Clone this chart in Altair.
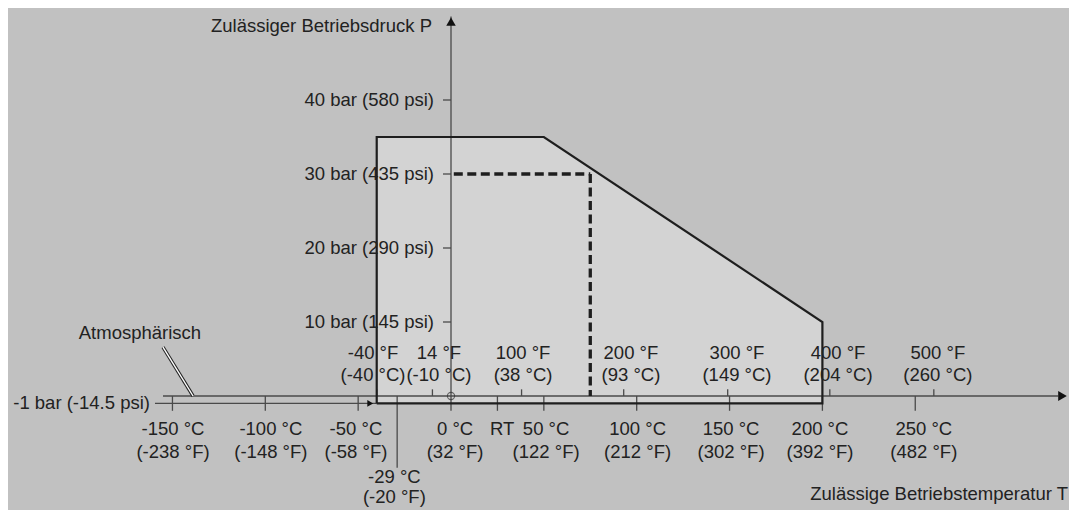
import altair as alt
import pandas as pd

# ---------------- data ----------------
# permissible envelope (temperature in °C, pressure in bar)
env_temp_c = [-40, -40, 50, 200, 200, -40]
env_press_bar = [-1, 35, 35, 10, -1, -1]
fill_temp_c = [-40, 50, 200]
fill_press_bar = [35, 35, 10]
fill_base_bar = [-1, -1, -1]

# example operating point (dashed)
op_temp_c = 75
op_press_bar = 30

# pressure axis
p_ticks_bar = [10, 20, 30, 40]
p_tick_labels = ["10 bar (145 psi)", "20 bar (290 psi)", "30 bar (435 psi)", "40 bar (580 psi)"]
vac_bar = -1
vac_label = "-1 bar (-14.5 psi)"

# temperature axis, °C ticks below
c_ticks = [-150, -100, -50, 0, 25, 50, 100, 150, 200, 250]
c_label_pos = [-149.7, -97.0, -51.2, 2.2, 27.5, 51.2, 100.5, 150.8, 198.7, 254.6]
c_labels = ["-150 °C", "-100 °C", "-50 °C", "0 °C", "RT", "50 °C", "100 °C", "150 °C", "200 °C", "250 °C"]
c_labels_f = ["(-238 °F)", "(-148 °F)", "(-58 °F)", "(32 °F)", "", "(122 °F)", "(212 °F)", "(302 °F)", "(392 °F)", "(482 °F)"]

# °F ticks above (positions in °C)
f_ticks_c = [-40, -10, 38, 93, 149, 204, 260]
f_label_pos = [-42.0, -6.5, 38.8, 96.9, 154.0, 208.4, 262.2]
f_labels = ["-40 °F", "14 °F", "100 °F", "200 °F", "300 °F", "400 °F", "500 °F"]
f_labels_c = ["(-40 °C)", "(-10 °C)", "(38 °C)", "(93 °C)", "(149 °C)", "(204 °C)", "(260 °C)"]

# minimum temperature marker
min_c = -29
min_tick_end_bar = -9.7
min_label_pos = -30.5
min_labels = ["-29 °C", "(-20 °F)"]

# annotations
atm_label = "Atmosphärisch"
atm_pointer_c = [-155.1, -138.9]
atm_pointer_bar = [6.6, 0.0]
atm_label_pos = (-167.5, 8.5)
y_title = "Zulässiger Betriebsdruck P"
y_title_bar = 50.0
x_title = "Zulässige Betriebstemperatur T"
x_title_bar = -13.25

# ---------------- layout ----------------
W, H = 1061, 502
PX_PER_C = 1.857
PX_PER_BAR = 7.4
X0, Y0 = 443, 388  # plot-relative pixel of (0 °C, 0 bar)
X_MIN, X_MAX = -X0 / PX_PER_C, (W - X0) / PX_PER_C
xs = alt.Scale(domain=[X_MIN, X_MAX], nice=False, zero=False)
ys = alt.Scale(domain=[(Y0 - H) / PX_PER_BAR, Y0 / PX_PER_BAR], nice=False, zero=False)

X_AXIS_START, X_AXIS_END = -155.1, 327.0
ARROW_X = 329.3
VAC_START = -159.4
Y_AXIS_TOP = 51.3

INK = "#1e1e1e"
AXIS = "#4a4a4a"
FONT = "Liberation Sans"
FS = 18.5


def X(f):
    return alt.X(f, type="quantitative", scale=xs, axis=None)


def Y(f):
    return alt.Y(f, type="quantitative", scale=ys, axis=None)


def segs(rows):
    return pd.DataFrame(rows, columns=["x", "y", "x2", "y2"])


def seg_layer(df, **mk):
    return alt.Chart(df).mark_rule(**mk).encode(
        x=X("x"), y=Y("y"), x2=alt.X2("x2"), y2=alt.Y2("y2"))


# envelope fill
fill_df = pd.DataFrame({"x": fill_temp_c, "y": fill_press_bar, "y2": fill_base_bar})
fill = alt.Chart(fill_df).mark_area(color="#d3d3d3", opacity=1).encode(
    x=X("x"), y=Y("y"), y2=alt.Y2("y2"))

# axis lines
axis_lines = seg_layer(segs([
    (X_AXIS_START, 0, X_AXIS_END, 0),
    (VAC_START, vac_bar, env_temp_c[0], vac_bar),
    (0, 0, 0, Y_AXIS_TOP),
]), color=AXIS, strokeWidth=1.3)

# ticks
c_tick_df = segs([(c, 0, c, -2) for c in c_ticks] + [(min_c, 0, min_c, min_tick_end_bar)])
c_tick_layer = seg_layer(c_tick_df, color=AXIS, strokeWidth=1.3)
f_tick_df = segs([(c, 0, c, 0.9) for c in f_ticks_c])
f_tick_layer = seg_layer(f_tick_df, color=AXIS, strokeWidth=1.3)
p_tick_df = pd.DataFrame({"x": [0] * len(p_ticks_bar), "y": p_ticks_bar})
p_tick_layer = alt.Chart(p_tick_df).mark_rule(color=AXIS, strokeWidth=1.3, xOffset=-8).encode(
    x=X("x"), x2=alt.X2("x"), y=Y("y"))

# envelope outline
env_df = pd.DataFrame({"x": env_temp_c, "y": env_press_bar, "o": list(range(len(env_temp_c)))})
outline = alt.Chart(env_df).mark_line(color=INK, strokeWidth=2.2, strokeJoin="miter").encode(
    x=X("x"), y=Y("y"), order="o:Q")

# dashed operating lines
dash = seg_layer(segs([
    (1.5, op_press_bar, op_temp_c, op_press_bar),
    (op_temp_c, op_press_bar, op_temp_c, 0),
]), color=INK, strokeWidth=3.3, strokeDash=[9, 4.5])

# atmospheric pointer
ptr_df = segs([(atm_pointer_c[0], atm_pointer_bar[0], atm_pointer_c[1], atm_pointer_bar[1])])
ptr_dark = seg_layer(ptr_df, color="#222222", strokeWidth=3.4)
ptr_light = seg_layer(ptr_df, color="#ffffff", strokeWidth=1.4)

# origin circle
origin = alt.Chart(pd.DataFrame({"x": [0], "y": [0]})).mark_point(
    shape="circle", size=52, filled=False, color="#333333", strokeWidth=1.1).encode(x=X("x"), y=Y("y"))

# arrowheads
arr_up = alt.Chart(pd.DataFrame({"x": [0], "y": [50.6]})).mark_point(
    shape="triangle-up", size=90, filled=True, color="#111111", opacity=1).encode(x=X("x"), y=Y("y"))
arr_right = alt.Chart(pd.DataFrame({"x": [ARROW_X], "y": [0]})).mark_point(
    shape="triangle-right", size=100, filled=True, color="#111111", opacity=1).encode(x=X("x"), y=Y("y"))
arr_small = alt.Chart(pd.DataFrame({"x": [-43.5], "y": [vac_bar]})).mark_point(
    shape="triangle-right", size=45, filled=True, color="#111111", opacity=1).encode(x=X("x"), y=Y("y"))


def text_layer(df, **mk):
    base = dict(font=FONT, fontSize=FS, color="#222222", baseline="middle")
    base.update(mk)
    return alt.Chart(df).mark_text(**base).encode(x=X("x"), y=Y("y"), text="t:N")


zeros_c = [0] * len(c_ticks)
c_l1 = text_layer(pd.DataFrame({"x": c_label_pos, "y": zeros_c, "t": c_labels}), dy=33)
c_l2 = text_layer(pd.DataFrame({"x": c_label_pos, "y": zeros_c, "t": c_labels_f}), dy=56)
zeros_f = [0] * len(f_ticks_c)
f_l1 = text_layer(pd.DataFrame({"x": f_label_pos, "y": zeros_f, "t": f_labels}), dy=-43)
f_l2 = text_layer(pd.DataFrame({"x": f_label_pos, "y": zeros_f, "t": f_labels_c}), dy=-21)
m_l1 = text_layer(pd.DataFrame({"x": [min_label_pos], "y": [0], "t": [min_labels[0]]}), dy=81)
m_l2 = text_layer(pd.DataFrame({"x": [min_label_pos], "y": [0], "t": [min_labels[1]]}), dy=101)
p_lab = text_layer(pd.DataFrame({"x": [0] * len(p_ticks_bar), "y": p_ticks_bar, "t": p_tick_labels}),
                   align="right", dx=-17)
vac_lab = text_layer(pd.DataFrame({"x": [VAC_START], "y": [vac_bar], "t": [vac_label]}),
                     align="right", dx=-5)
atm_lab = text_layer(pd.DataFrame({"x": [atm_label_pos[0]], "y": [atm_label_pos[1]], "t": [atm_label]}))
yt = text_layer(pd.DataFrame({"x": [0], "y": [y_title_bar], "t": [y_title]}), align="right", dx=-19)
xt = text_layer(pd.DataFrame({"x": [X_MAX], "y": [x_title_bar], "t": [x_title]}), align="right", dx=-1)

chart = alt.layer(
    fill, axis_lines, c_tick_layer, f_tick_layer, p_tick_layer, outline, dash,
    ptr_dark, ptr_light, origin, arr_up, arr_right, arr_small,
    c_l1, c_l2, f_l1, f_l2, m_l1, m_l2, p_lab, vac_lab, atm_lab, yt, xt,
).properties(
    width=W, height=H, padding=0, background="#c1c1c1",
    autosize=alt.AutoSizeParams(type="none"),
).configure_view(stroke=None)

chart.save("out.html", embed_options={"renderer": "svg", "actions": False})
